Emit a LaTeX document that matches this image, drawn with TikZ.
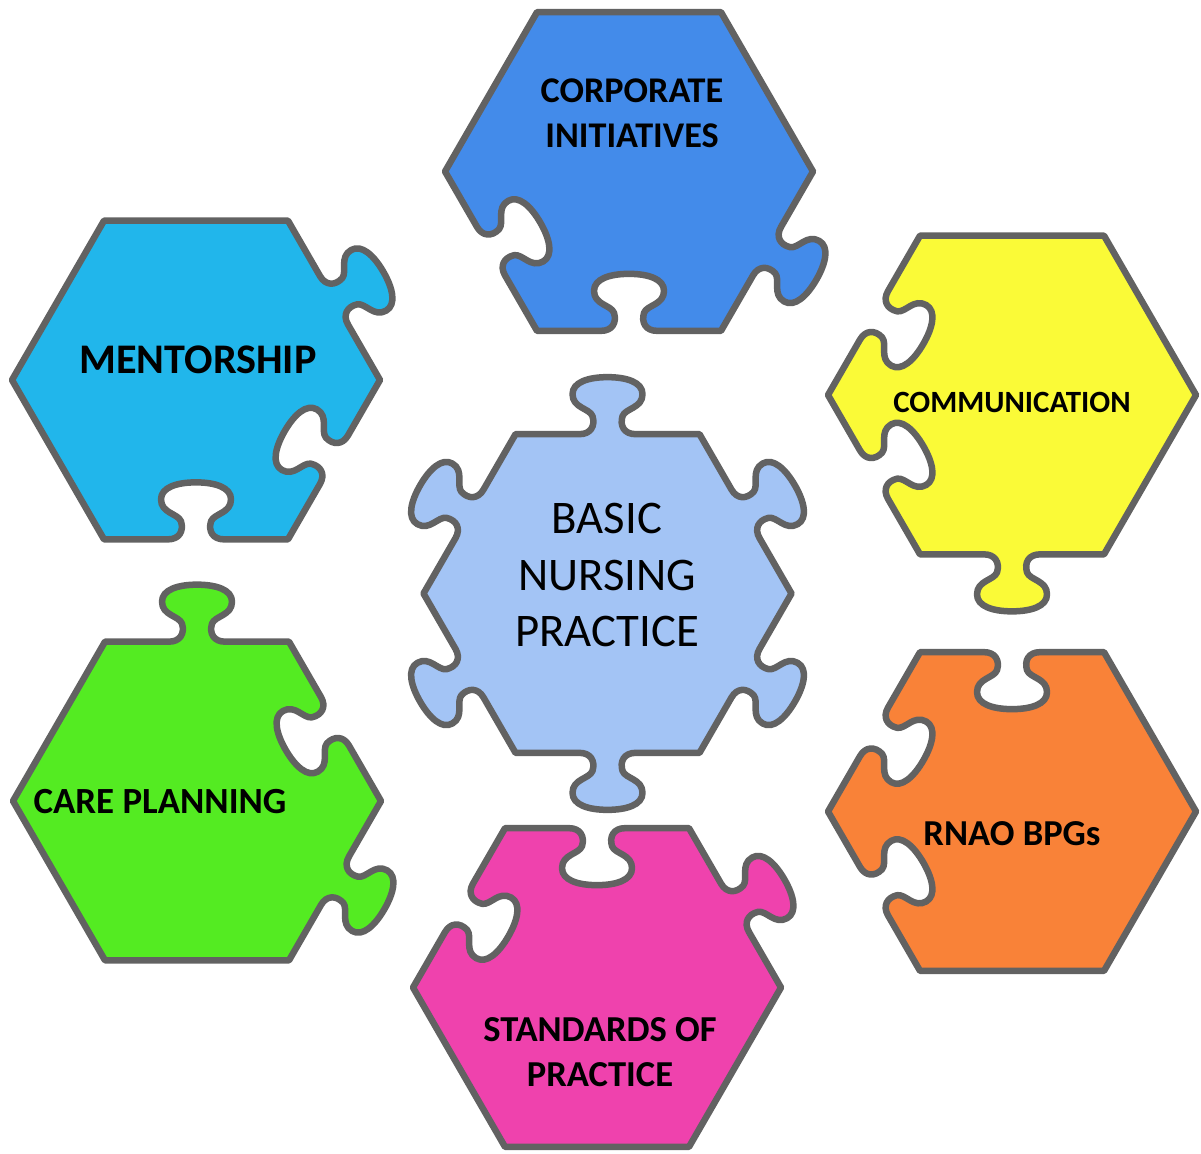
\documentclass[tikz,border=0pt]{standalone}
\usepackage{fontspec}
\setmainfont{Carlito}
\usepackage{tikz}
\usetikzlibrary{calc,positioning}

\definecolor{outline}{HTML}{626262}
\definecolor{bnpfill}{HTML}{A3C4F5}
\definecolor{corpfill}{HTML}{438BEA}
\definecolor{mentorfill}{HTML}{21B6EB}
\definecolor{commfill}{HTML}{FAFA37}
\definecolor{carefill}{HTML}{54EB22}
\definecolor{stdfill}{HTML}{EF42AD}
\definecolor{rnaofill}{HTML}{F98238}

% hexagon piece, R = 184; edge types from upper right going round:
% 1 = knob out, -1 = socket in, 0 = flat
\tikzset{
	pics/piece/.style 2 args={code={
		\filldraw[draw=outline, line width=0.65mm, line join=round, fill=#2] (184,0)
		foreach \s [count=\k from 0] in {#1} {
			{[rotate=60*\k-60]
				-- (28,159.35)
				.. controls (17,159.35) and (12,{159.35+8*(\s)}) .. (15,{159.35+18*(\s)})
				.. controls (18,{159.35+26*(\s)}) and (35,{159.35+26*(\s)}) .. (35,{159.35+40*(\s)})
				.. controls (35,{159.35+52*(\s)}) and (19,{159.35+57*(\s)}) .. (0,{159.35+57*(\s)})
				.. controls (-19,{159.35+57*(\s)}) and (-35,{159.35+52*(\s)}) .. (-35,{159.35+40*(\s)})
				.. controls (-35,{159.35+26*(\s)}) and (-18,{159.35+26*(\s)}) .. (-15,{159.35+18*(\s)})
				.. controls (-12,{159.35+8*(\s)}) and (-17,159.35) .. (-28,159.35)
				-- (-92,159.35)}
		} -- cycle;
	}}
}

\begin{document}
\begin{tikzpicture}[x=0.1mm, y=0.1mm, piecetext/.style={inner sep=0pt, align=center, text=black}]
	\useasboundingbox (0,0) rectangle (1201,1153);
	
	\pic (bnp) at (607.5,559.5) {piece={1,1,1,1,1,1}{bnpfill}};
	\pic (corp) at (629,981.5) {piece={0,0,0,-1,-1,1}{corpfill}};
	\pic (mentor) at (196,773) {piece={1,0,0,0,-1,-1}{mentorfill}};
	\pic (comm) at (1012,758) {piece={0,0,-1,-1,1,0}{commfill}};
	\pic (care) at (197,352) {piece={-1,1,0,0,0,1}{carefill}};
	\pic (std) at (597,165.5) {piece={1,-1,-1,0,0,0}{stdfill}};
	\pic (rnao) at (1012,341.5) {piece={0,-1,-1,-1,0,0}{rnaofill}};
	
	\node[piecetext, font=\fontsize{13.3}{16.2}\selectfont] (bnptext) at (607,578) {BASIC\\NURSING\\PRACTICE};
	\node[piecetext, font=\bfseries\fontsize{10.3}{12.8}\selectfont] (corptext) at (632,1040) {CORPORATE\\INITIATIVES};
	\node[piecetext, font=\bfseries\fontsize{12}{14}\selectfont] (mentortext) at (198,793.5) {MENTORSHIP};
	\node[piecetext, font=\bfseries\fontsize{8.8}{10}\selectfont] (commtext) at (1012,750.5) {COMMUNICATION};
	\node[piecetext, font=\bfseries\fontsize{10.5}{12.6}\selectfont] (caretext) at (160,351) {CARE PLANNING};
	\node[piecetext, font=\bfseries\fontsize{10.4}{12.8}\selectfont] (stdtext) at (600,100.5) {STANDARDS OF\\PRACTICE};
	\node[piecetext, font=\bfseries\fontsize{10.4}{12.5}\selectfont] (rnaotext) at (1012,319.5) {RNAO BPGs};
	
\end{tikzpicture}
\end{document}
